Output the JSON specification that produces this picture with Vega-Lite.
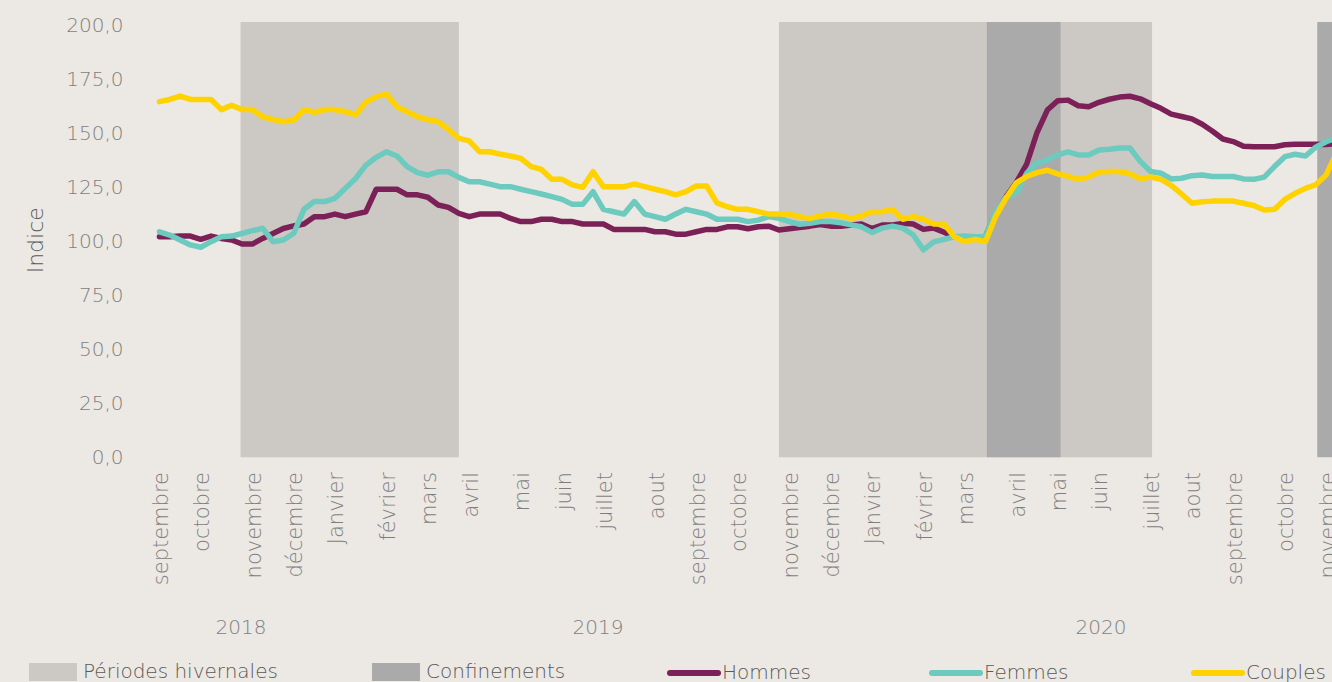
{
  "$schema": "https://vega.github.io/schema/vega-lite/v6.json",
  "width": 1177,
  "height": 435.5,
  "autosize": {"type": "none"},
  "padding": {"left": 155, "top": 22, "right": 0, "bottom": 224.5},
  "background": "#ECE8E3",
  "config": {
    "view": {"stroke": null},
    "font": "DejaVu Sans",
    "axis": {"labelFont": "DejaVu Sans", "labelFontWeight": 200, "titleFont": "DejaVu Sans", "titleFontWeight": 200},
    "legend": {"labelFont": "DejaVu Sans", "labelFontWeight": 200}
  },
  "datasets": {
    "periodes": [
      {"periode": "Périodes hivernales", "debut": "2018-11-03", "fin": "2019-03-31"},
      {"periode": "Périodes hivernales", "debut": "2019-11-03", "fin": "2020-07-13"},
      {"periode": "Confinements", "debut": "2020-03-23", "fin": "2020-05-12"},
      {"periode": "Confinements", "debut": "2020-11-02", "fin": "2020-12-15"}
    ],
    "indices": [
      {"date": "2018-09-09", "Hommes": 102.3, "Femmes": 104.6, "Couples": 164.9},
      {"date": "2018-09-16", "Hommes": 102.3, "Femmes": 103.1, "Couples": 165.9},
      {"date": "2018-09-23", "Hommes": 102.6, "Femmes": 100.8, "Couples": 167.5},
      {"date": "2018-09-30", "Hommes": 102.6, "Femmes": 98.5, "Couples": 165.9},
      {"date": "2018-10-07", "Hommes": 101.1, "Femmes": 97.4, "Couples": 165.9},
      {"date": "2018-10-14", "Hommes": 102.6, "Femmes": 100.0, "Couples": 165.9},
      {"date": "2018-10-21", "Hommes": 101.5, "Femmes": 102.3, "Couples": 161.2},
      {"date": "2018-10-28", "Hommes": 100.8, "Femmes": 102.6, "Couples": 163.2},
      {"date": "2018-11-04", "Hommes": 98.9, "Femmes": 103.8, "Couples": 161.2},
      {"date": "2018-11-11", "Hommes": 98.9, "Femmes": 105.1, "Couples": 161.2},
      {"date": "2018-11-18", "Hommes": 101.5, "Femmes": 106.2, "Couples": 157.9},
      {"date": "2018-11-25", "Hommes": 103.8, "Femmes": 100.0, "Couples": 156.6},
      {"date": "2018-12-02", "Hommes": 106.1, "Femmes": 100.8, "Couples": 155.6},
      {"date": "2018-12-09", "Hommes": 107.3, "Femmes": 103.8, "Couples": 156.4},
      {"date": "2018-12-16", "Hommes": 108.2, "Femmes": 115.0, "Couples": 161.2},
      {"date": "2018-12-23", "Hommes": 111.6, "Femmes": 118.6, "Couples": 160.0},
      {"date": "2018-12-30", "Hommes": 111.6, "Femmes": 118.6, "Couples": 161.2},
      {"date": "2019-01-06", "Hommes": 112.8, "Femmes": 120.1, "Couples": 161.2},
      {"date": "2019-01-13", "Hommes": 111.6, "Femmes": 124.7, "Couples": 160.2},
      {"date": "2019-01-20", "Hommes": 112.8, "Femmes": 129.3, "Couples": 158.9},
      {"date": "2019-01-27", "Hommes": 113.9, "Femmes": 135.5, "Couples": 164.6},
      {"date": "2019-02-03", "Hommes": 124.3, "Femmes": 139.1, "Couples": 167.2},
      {"date": "2019-02-10", "Hommes": 124.3, "Femmes": 141.7, "Couples": 168.4},
      {"date": "2019-02-17", "Hommes": 124.3, "Femmes": 139.7, "Couples": 162.5},
      {"date": "2019-02-24", "Hommes": 121.7, "Femmes": 134.8, "Couples": 160.2},
      {"date": "2019-03-03", "Hommes": 121.7, "Femmes": 132.0, "Couples": 157.9},
      {"date": "2019-03-10", "Hommes": 120.6, "Femmes": 130.8, "Couples": 156.6},
      {"date": "2019-03-17", "Hommes": 117.0, "Femmes": 132.4, "Couples": 155.6},
      {"date": "2019-03-24", "Hommes": 115.9, "Femmes": 132.4, "Couples": 152.0},
      {"date": "2019-03-31", "Hommes": 113.1, "Femmes": 129.8, "Couples": 147.9},
      {"date": "2019-04-07", "Hommes": 111.6, "Femmes": 127.8, "Couples": 146.7},
      {"date": "2019-04-14", "Hommes": 112.8, "Femmes": 127.8, "Couples": 141.7},
      {"date": "2019-04-21", "Hommes": 112.8, "Femmes": 126.7, "Couples": 141.7},
      {"date": "2019-04-28", "Hommes": 112.8, "Femmes": 125.5, "Couples": 140.6},
      {"date": "2019-05-05", "Hommes": 110.8, "Femmes": 125.5, "Couples": 139.7},
      {"date": "2019-05-12", "Hommes": 109.3, "Femmes": 124.3, "Couples": 138.6},
      {"date": "2019-05-19", "Hommes": 109.3, "Femmes": 123.2, "Couples": 134.8},
      {"date": "2019-05-26", "Hommes": 110.4, "Femmes": 122.1, "Couples": 133.5},
      {"date": "2019-06-02", "Hommes": 110.4, "Femmes": 120.9, "Couples": 128.9},
      {"date": "2019-06-09", "Hommes": 109.3, "Femmes": 119.6, "Couples": 128.9},
      {"date": "2019-06-16", "Hommes": 109.3, "Femmes": 117.3, "Couples": 126.3},
      {"date": "2019-06-23", "Hommes": 108.2, "Femmes": 117.3, "Couples": 125.2},
      {"date": "2019-06-30", "Hommes": 108.2, "Femmes": 123.2, "Couples": 132.4},
      {"date": "2019-07-07", "Hommes": 108.2, "Femmes": 115.0, "Couples": 125.5},
      {"date": "2019-07-14", "Hommes": 105.7, "Femmes": 113.9, "Couples": 125.5},
      {"date": "2019-07-21", "Hommes": 105.7, "Femmes": 112.8, "Couples": 125.5},
      {"date": "2019-07-28", "Hommes": 105.7, "Femmes": 118.6, "Couples": 126.7},
      {"date": "2019-08-04", "Hommes": 105.7, "Femmes": 112.8, "Couples": 125.5},
      {"date": "2019-08-11", "Hommes": 104.6, "Femmes": 111.6, "Couples": 124.3},
      {"date": "2019-08-18", "Hommes": 104.6, "Femmes": 110.4, "Couples": 123.2},
      {"date": "2019-08-25", "Hommes": 103.5, "Femmes": 112.8, "Couples": 121.7},
      {"date": "2019-09-01", "Hommes": 103.5, "Femmes": 115.0, "Couples": 123.2},
      {"date": "2019-09-08", "Hommes": 104.6, "Femmes": 113.9, "Couples": 125.8},
      {"date": "2019-09-15", "Hommes": 105.7, "Femmes": 112.8, "Couples": 125.8},
      {"date": "2019-09-22", "Hommes": 105.7, "Femmes": 110.4, "Couples": 118.0},
      {"date": "2019-09-29", "Hommes": 106.9, "Femmes": 110.4, "Couples": 116.2},
      {"date": "2019-10-06", "Hommes": 106.9, "Femmes": 110.4, "Couples": 115.0},
      {"date": "2019-10-13", "Hommes": 106.0, "Femmes": 109.3, "Couples": 115.0},
      {"date": "2019-10-20", "Hommes": 106.9, "Femmes": 110.0, "Couples": 113.9},
      {"date": "2019-10-27", "Hommes": 107.2, "Femmes": 111.6, "Couples": 112.8},
      {"date": "2019-11-03", "Hommes": 105.4, "Femmes": 110.8, "Couples": 112.8},
      {"date": "2019-11-10", "Hommes": 106.0, "Femmes": 109.3, "Couples": 112.8},
      {"date": "2019-11-17", "Hommes": 106.6, "Femmes": 108.1, "Couples": 111.6},
      {"date": "2019-11-24", "Hommes": 107.2, "Femmes": 108.5, "Couples": 110.8},
      {"date": "2019-12-01", "Hommes": 108.0, "Femmes": 109.3, "Couples": 111.9},
      {"date": "2019-12-08", "Hommes": 107.2, "Femmes": 109.3, "Couples": 112.8},
      {"date": "2019-12-15", "Hommes": 107.2, "Femmes": 108.8, "Couples": 111.9},
      {"date": "2019-12-22", "Hommes": 107.7, "Femmes": 107.8, "Couples": 110.8},
      {"date": "2019-12-29", "Hommes": 108.2, "Femmes": 106.9, "Couples": 111.9},
      {"date": "2020-01-05", "Hommes": 106.1, "Femmes": 104.3, "Couples": 113.9},
      {"date": "2020-01-12", "Hommes": 107.7, "Femmes": 106.3, "Couples": 113.9},
      {"date": "2020-01-19", "Hommes": 107.7, "Femmes": 107.2, "Couples": 115.0},
      {"date": "2020-01-26", "Hommes": 108.5, "Femmes": 106.3, "Couples": 110.4},
      {"date": "2020-02-02", "Hommes": 108.2, "Femmes": 103.2, "Couples": 111.6},
      {"date": "2020-02-09", "Hommes": 105.7, "Femmes": 96.2, "Couples": 110.4},
      {"date": "2020-02-16", "Hommes": 106.3, "Femmes": 99.9, "Couples": 108.2},
      {"date": "2020-02-23", "Hommes": 104.4, "Femmes": 101.1, "Couples": 108.2},
      {"date": "2020-03-01", "Hommes": 102.3, "Femmes": 102.3, "Couples": 102.3},
      {"date": "2020-03-08", "Hommes": 102.3, "Femmes": 102.6, "Couples": 100.0},
      {"date": "2020-03-15", "Hommes": 102.3, "Femmes": 102.3, "Couples": 101.1},
      {"date": "2020-03-22", "Hommes": 102.3, "Femmes": 102.3, "Couples": 100.0},
      {"date": "2020-03-29", "Hommes": 113.2, "Femmes": 114.0, "Couples": 111.7},
      {"date": "2020-04-05", "Hommes": 120.8, "Femmes": 120.6, "Couples": 120.2},
      {"date": "2020-04-12", "Hommes": 127.5, "Femmes": 122.5, "Couples": 127.3},
      {"date": "2020-04-19", "Hommes": 136.0, "Femmes": 131.7, "Couples": 130.2},
      {"date": "2020-04-26", "Hommes": 150.5, "Femmes": 136.4, "Couples": 132.0},
      {"date": "2020-05-03", "Hommes": 161.0, "Femmes": 137.9, "Couples": 133.1},
      {"date": "2020-05-10", "Hommes": 165.3, "Femmes": 140.2, "Couples": 131.4},
      {"date": "2020-05-17", "Hommes": 165.6, "Femmes": 141.6, "Couples": 130.3},
      {"date": "2020-05-24", "Hommes": 163.0, "Femmes": 140.2, "Couples": 128.9},
      {"date": "2020-05-31", "Hommes": 162.5, "Femmes": 140.2, "Couples": 129.9},
      {"date": "2020-06-07", "Hommes": 164.6, "Femmes": 142.5, "Couples": 132.3},
      {"date": "2020-06-14", "Hommes": 166.0, "Femmes": 142.8, "Couples": 132.5},
      {"date": "2020-06-21", "Hommes": 167.0, "Femmes": 143.4, "Couples": 132.5},
      {"date": "2020-06-28", "Hommes": 167.4, "Femmes": 143.4, "Couples": 131.5},
      {"date": "2020-07-05", "Hommes": 166.2, "Femmes": 137.2, "Couples": 129.2},
      {"date": "2020-07-12", "Hommes": 163.9, "Femmes": 132.5, "Couples": 130.0},
      {"date": "2020-07-19", "Hommes": 161.8, "Femmes": 131.7, "Couples": 128.9},
      {"date": "2020-07-26", "Hommes": 159.1, "Femmes": 129.1, "Couples": 126.1},
      {"date": "2020-08-02", "Hommes": 158.0, "Femmes": 129.4, "Couples": 122.1},
      {"date": "2020-08-09", "Hommes": 156.9, "Femmes": 130.6, "Couples": 117.8},
      {"date": "2020-08-16", "Hommes": 154.4, "Femmes": 130.9, "Couples": 118.5},
      {"date": "2020-08-23", "Hommes": 151.2, "Femmes": 130.2, "Couples": 118.8},
      {"date": "2020-08-30", "Hommes": 147.6, "Femmes": 130.2, "Couples": 118.8},
      {"date": "2020-09-06", "Hommes": 146.4, "Femmes": 130.2, "Couples": 118.8},
      {"date": "2020-09-13", "Hommes": 144.2, "Femmes": 129.1, "Couples": 117.8},
      {"date": "2020-09-20", "Hommes": 144.0, "Femmes": 128.9, "Couples": 116.8},
      {"date": "2020-09-27", "Hommes": 144.0, "Femmes": 129.9, "Couples": 114.7},
      {"date": "2020-10-04", "Hommes": 144.0, "Femmes": 134.8, "Couples": 115.0},
      {"date": "2020-10-11", "Hommes": 144.9, "Femmes": 139.4, "Couples": 119.6},
      {"date": "2020-10-18", "Hommes": 145.2, "Femmes": 140.5, "Couples": 122.4},
      {"date": "2020-10-25", "Hommes": 145.2, "Femmes": 139.7, "Couples": 124.7},
      {"date": "2020-11-01", "Hommes": 145.2, "Femmes": 143.8, "Couples": 126.4},
      {"date": "2020-11-08", "Hommes": 145.0, "Femmes": 146.3, "Couples": 130.9},
      {"date": "2020-11-15", "Hommes": 145.5, "Femmes": 148.0, "Couples": 141.0}
    ]
  },
  "layer": [
    {
      "data": {"name": "periodes"},
      "mark": {"type": "rect", "clip": true},
      "encoding": {
        "x": {
          "field": "debut", "type": "temporal",
          "scale": {"type": "utc", "domain": [{"year": 2018, "month": 9, "date": 6, "utc": true}, {"year": 2020, "month": 11, "date": 12, "utc": true}]},
          "axis": {
            "orient": "bottom",
            "values": [{"year": 2018, "month": 11, "date": 3, "utc": true}, {"year": 2019, "month": 7, "date": 3, "utc": true}, {"year": 2020, "month": 6, "date": 8, "utc": true}],
            "labelExpr": "utcFormat(datum.value, '%Y')",
            "offset": 169.5, "labelBaseline": "middle", "labelAlign": "center", "labelAngle": 0, "labelPadding": 0,
            "ticks": false, "domain": false, "grid": false, "title": null,
            "labelFontSize": 20, "labelColor": "#7F7F7F", "labelOverlap": false
          }
        },
        "x2": {"field": "fin"},
        "fill": {
          "field": "periode", "type": "nominal",
          "scale": {"domain": ["Périodes hivernales", "Confinements"], "range": ["#CCC9C4", "#AAAAAA"]},
          "legend": {
            "orient": "none", "direction": "horizontal", "columns": 2, "legendX": -126, "legendY": 626,
            "title": null, "padding": 0, "symbolType": "M-1,-0.375H1V0.375H-1Z", "symbolSize": 2304,
            "symbolStrokeWidth": 0, "symbolOpacity": 1, "labelFontSize": 20, "labelColor": "#595959",
            "labelOffset": 6, "columnPadding": 94, "labelLimit": 400
          }
        }
      }
    },
    {
      "data": {"name": "indices"},
      "transform": [{"fold": ["Hommes", "Femmes", "Couples"], "as": ["serie", "indice"]}],
      "mark": {"type": "line", "strokeWidth": 5.5, "clip": true, "strokeJoin": "round", "strokeCap": "round"},
      "encoding": {
        "x": {
          "field": "date", "type": "temporal",
          "scale": {"type": "utc", "domain": [{"year": 2018, "month": 9, "date": 6, "utc": true}, {"year": 2020, "month": 11, "date": 12, "utc": true}]},
          "axis": {
            "orient": "bottom",
            "values": [
              {"year": 2018, "month": 9, "date": 9, "utc": true}, {"year": 2018, "month": 10, "date": 7, "utc": true},
              {"year": 2018, "month": 11, "date": 11, "utc": true}, {"year": 2018, "month": 12, "date": 9, "utc": true},
              {"year": 2019, "month": 1, "date": 6, "utc": true}, {"year": 2019, "month": 2, "date": 10, "utc": true},
              {"year": 2019, "month": 3, "date": 10, "utc": true}, {"year": 2019, "month": 4, "date": 7, "utc": true},
              {"year": 2019, "month": 5, "date": 12, "utc": true}, {"year": 2019, "month": 6, "date": 9, "utc": true},
              {"year": 2019, "month": 7, "date": 7, "utc": true}, {"year": 2019, "month": 8, "date": 11, "utc": true},
              {"year": 2019, "month": 9, "date": 8, "utc": true}, {"year": 2019, "month": 10, "date": 6, "utc": true},
              {"year": 2019, "month": 11, "date": 10, "utc": true}, {"year": 2019, "month": 12, "date": 8, "utc": true},
              {"year": 2020, "month": 1, "date": 5, "utc": true}, {"year": 2020, "month": 2, "date": 9, "utc": true},
              {"year": 2020, "month": 3, "date": 8, "utc": true}, {"year": 2020, "month": 4, "date": 12, "utc": true},
              {"year": 2020, "month": 5, "date": 10, "utc": true}, {"year": 2020, "month": 6, "date": 7, "utc": true},
              {"year": 2020, "month": 7, "date": 12, "utc": true}, {"year": 2020, "month": 8, "date": 9, "utc": true},
              {"year": 2020, "month": 9, "date": 6, "utc": true}, {"year": 2020, "month": 10, "date": 11, "utc": true},
              {"year": 2020, "month": 11, "date": 8, "utc": true}
            ],
            "labelExpr": "['Janvier','février','mars','avril','mai','juin','juillet','aout','septembre','octobre','novembre','décembre'][utcmonth(datum.value)]",
            "labelAngle": -90, "labelAlign": "right", "labelBaseline": "middle", "labelPadding": 14, "labelOffset": 2,
            "ticks": false, "domain": false, "grid": false, "title": null,
            "labelFontSize": 21, "labelColor": "#7F7F7F", "labelOverlap": false, "labelBound": false
          }
        },
        "y": {
          "field": "indice", "type": "quantitative",
          "scale": {"domain": [0, 201.8], "nice": false, "zero": true},
          "axis": {
            "values": [0, 25, 50, 75, 100, 125, 150, 175, 200],
            "labelExpr": "replace(format(datum.value, '.1f'), '.', ',')",
            "ticks": false, "domain": false, "grid": false, "labelPadding": 32,
            "labelFontSize": 20, "labelColor": "#7F7F7F",
            "title": "Indice", "titleFontSize": 22, "titleColor": "#595959", "titlePadding": 18
          }
        },
        "stroke": {
          "field": "serie", "type": "nominal",
          "scale": {"domain": ["Hommes", "Femmes", "Couples"], "range": ["#7B2157", "#6CCABF", "#FFD200"]},
          "legend": {
            "orient": "none", "direction": "horizontal", "columns": 3, "legendX": 512, "legendY": 624,
            "title": null, "padding": 0, "symbolType": "stroke", "symbolSize": 2304, "symbolStrokeWidth": 6,
            "labelFontSize": 20, "labelColor": "#595959", "labelOffset": 1, "columnPadding": 109,
            "gridAlign": "all", "labelLimit": 300,
            "encode": {"symbols": {"update": {"strokeCap": {"value": "round"}}}}
          }
        }
      }
    }
  ],
  "resolve": {"axis": {"x": "independent"}}
}
